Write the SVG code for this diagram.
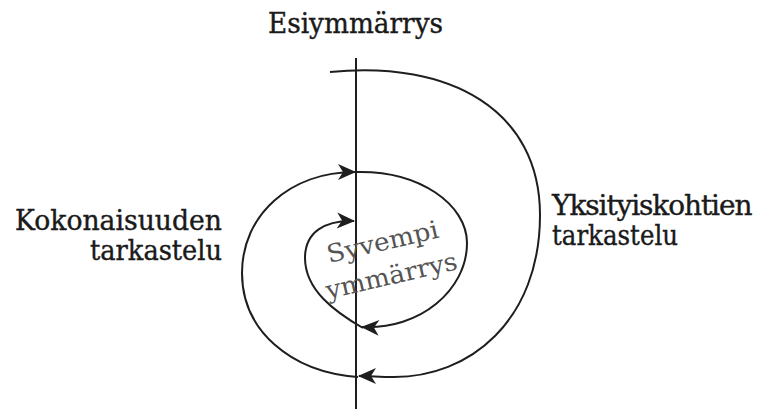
<svg xmlns="http://www.w3.org/2000/svg" width="760" height="409" viewBox="0 0 760 409">
<style>
.lbl{font-family:"DejaVu Serif","Liberation Serif",serif;font-size:28px;fill:#1a1a1a;stroke:#1a1a1a;stroke-width:0.4px;}
.inner{font-family:"DejaVu Serif","Liberation Serif",serif;font-size:25px;fill:#555;}
.c{fill:none;stroke:#1e1e1e;stroke-width:2;}
</style>
<defs>
<marker id="ah" viewBox="-19 -9 21 18" refX="0" refY="0" markerWidth="21" markerHeight="18" markerUnits="userSpaceOnUse" orient="auto">
<path d="M1,0 L-17,-8 L-12,0 L-17,8 Z" fill="#1e1e1e"/>
</marker>
</defs>
<rect width="760" height="409" fill="#fff"/>
<g id="axis">
<line x1="356" y1="58" x2="356" y2="409" stroke="#1e1e1e" stroke-width="2"/>
</g>
<g id="connectors">
<path class="c" d="M330,72 C450,60 540,110 540,215 C540,320 470,378 392,377 C380,377 370,376 359,376" marker-end="url(#ah)"/>
<path class="c" d="M358,377 C290,372 242,330 242,273 C242,215 290,172 355,172" marker-end="url(#ah)"/>
<path class="c" d="M355,172 C420,170 467,205 467,243 C467,290 420,330 362,327" marker-end="url(#ah)"/>
<path class="c" d="M363,328 C335,312 305,290 305,258 C305,232 325,220 354,221" marker-end="url(#ah)"/>
</g>
<g id="esiymmarrys">
<text class="lbl" x="268" y="33" textLength="175" lengthAdjust="spacingAndGlyphs">Esiymmärrys</text>
</g>
<g id="kokonaisuuden">
<text class="lbl" x="222" y="230" text-anchor="end" textLength="207" lengthAdjust="spacingAndGlyphs">Kokonaisuuden</text>
<text class="lbl" x="222" y="260" text-anchor="end" textLength="132" lengthAdjust="spacingAndGlyphs">tarkastelu</text>
</g>
<g id="yksityiskohtien">
<text class="lbl" x="552" y="215" letter-spacing="-1.1">Yksityiskohtien</text>
<text class="lbl" x="552" y="245" textLength="126" lengthAdjust="spacingAndGlyphs">tarkastelu</text>
</g>
<g id="syvempi">
<text class="inner" transform="translate(329,263) rotate(-13)" textLength="114" lengthAdjust="spacingAndGlyphs">Syvempi</text>
<text class="inner" transform="translate(328,299) rotate(-13)" textLength="134" lengthAdjust="spacingAndGlyphs">ymmärrys</text>
</g>
</svg>
